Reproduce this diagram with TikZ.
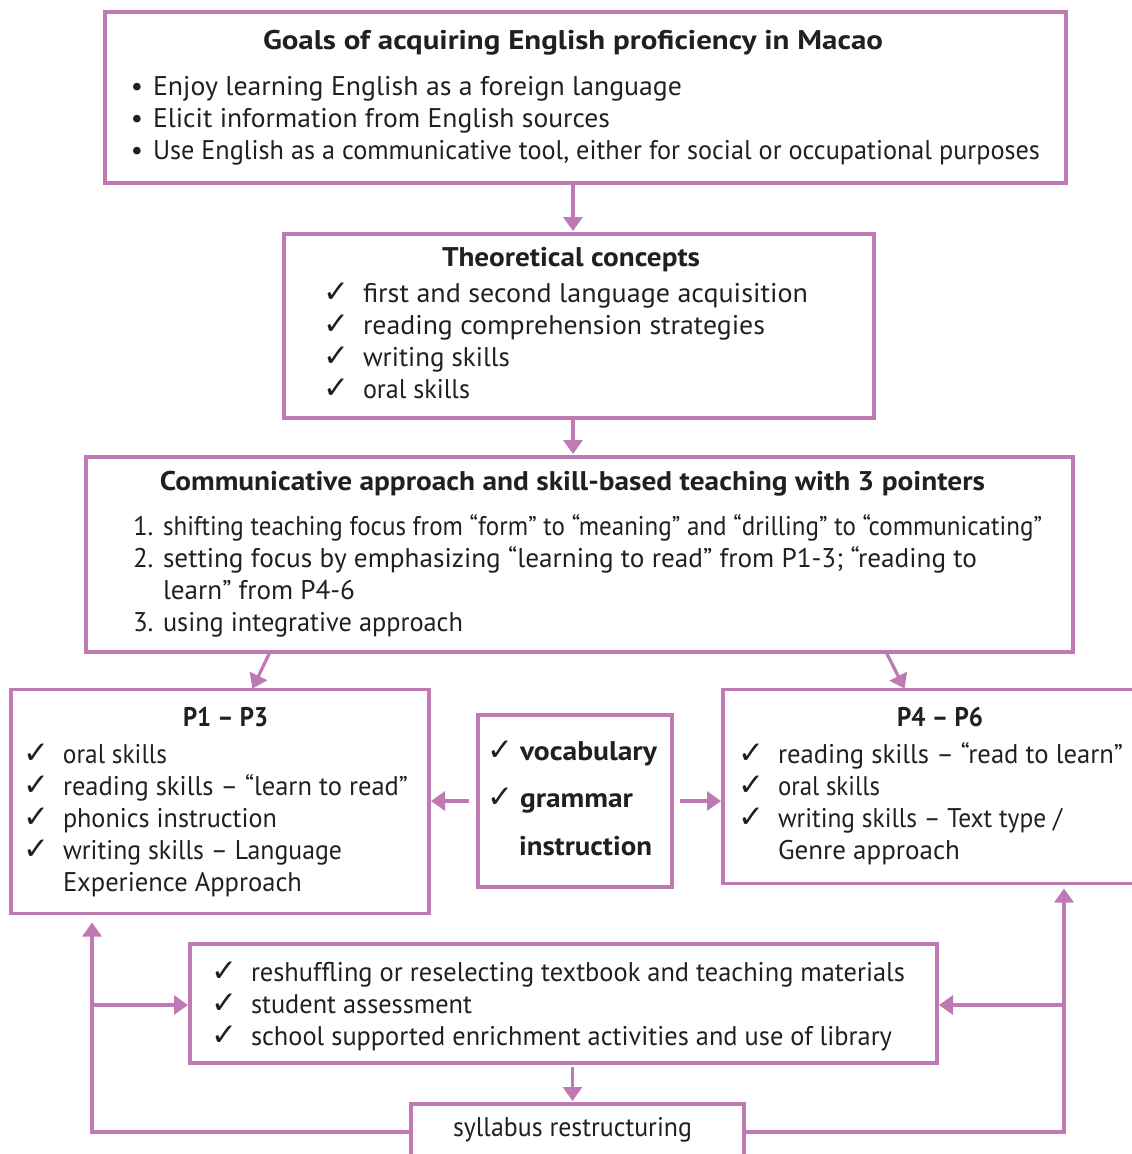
\documentclass[tikz,border=0pt]{standalone}
\usepackage{fontspec}
\setmainfont{PT Sans}
\newfontfamily\djv{DejaVu Sans}
\usetikzlibrary{arrows.meta,calc}
\definecolor{frame}{RGB}{191,122,179}
\definecolor{ink}{RGB}{35,31,32}
\newsavebox\fitbox
\newcommand{\fitw}[2]{\sbox\fitbox{#2}\pgfmathsetmacro\fitfac{#1/\the\wd\fitbox}\scalebox{\fitfac}[1]{\usebox\fitbox}}
\newcommand{\ck}{{\djv\fontsize{31}{31}\selectfont ✓}}
\newcommand{\ckitem}[2]{\makebox[35pt][l]{\makebox[17pt]{\ck}}\fitw{#1}{#2}}
\newcommand{\numitem}[3]{\makebox[30pt][l]{#1}\fitw{#2}{#3}}
\newcommand{\bulitem}[2]{\makebox[22pt][l]{\makebox[12pt]{\textbullet}}\fitw{#1}{#2}}
\begin{document}
\begin{tikzpicture}[x=1pt,y=-1pt,
  box/.style={draw=frame,line width=3.2pt,inner sep=0,outer sep=0},
  txt/.style={inner sep=0,outer sep=0,anchor=base west,text=ink,font=\fontsize{27}{32}\selectfont},
  ttl/.style={txt,anchor=base,font=\fontsize{27}{32}\selectfont\bfseries},
  arr/.style={draw=frame,line width=3.2pt,-{Triangle[length=14pt,width=19pt]}}]
\useasboundingbox (0,0) rectangle (1132,1154);
\clip (0,0) rectangle (1132,1154);
% boxes
\node[box,minimum width=961pt,minimum height=171pt] (b1) at (585.5,97.5) {};
\node[box,minimum width=590pt,minimum height=184pt] (b2) at (579,326) {};
\node[box,minimum width=987pt,minimum height=195pt] (b3) at (579.5,554.5) {};
\node[box,minimum width=418pt,minimum height=224pt] (p1) at (220,801.5) {};
\node[box,minimum width=194pt,minimum height=172pt] (mid) at (575,801) {};
\node[box,minimum width=427pt,minimum height=194pt] (p4) at (936.5,786.5) {};
\node[box,minimum width=747pt,minimum height=119pt] (bot) at (563.5,1003.5) {};
\node[box,minimum width=333pt,minimum height=56pt] (syl) at (577.5,1132) {};
% box 1
\node[ttl] (t1) at (573,49) {\fitw{620}{Goals of acquiring English proficiency in Macao}};
\node[txt] (b1a) at (131,95) {\bulitem{529}{Enjoy learning English as a foreign language}};
\node[txt] (b1b) at (131,127) {\bulitem{457}{Elicit information from English sources}};
\node[txt] (b1c) at (131,159) {\bulitem{887}{Use English as a communicative tool, either for social or occupational purposes}};
% box 2
\node[ttl] (t2) at (571,266) {\fitw{258}{Theoretical concepts}};
\node[txt] (b2a) at (328,302) {\ckitem{445}{first and second language acquisition}};
\node[txt] (b2b) at (328,334) {\ckitem{402}{reading comprehension strategies}};
\node[txt] (b2c) at (328,366) {\ckitem{147}{writing skills}};
\node[txt] (b2d) at (328,398) {\ckitem{107}{oral skills}};
% box 3
\node[ttl] (t3) at (572.5,490) {\fitw{825}{Communicative approach and skill-based teaching with 3 pointers}};
\node[txt] (b3a) at (133,535) {\numitem{1.}{879}{shifting teaching focus from “form” to “meaning” and “drilling” to “communicating”}};
\node[txt] (b3b) at (133,567) {\numitem{2.}{814}{setting focus by emphasizing “learning to read” from P1-3; “reading to}};
\node[txt] (b3c) at (163,599) {\fitw{192}{learn” from P4-6}};
\node[txt] (b3d) at (133,631) {\numitem{3.}{300}{using integrative approach}};
% P1-P3
\node[ttl] (tp1) at (225.5,726) {\fitw{85}{P1 – P3}};
\node[txt] (p1a) at (28,763) {\ckitem{104}{oral skills}};
\node[txt] (p1b) at (28,795) {\ckitem{345}{reading skills – “learn to read”}};
\node[txt] (p1c) at (28,827) {\ckitem{214}{phonics instruction}};
\node[txt] (p1d) at (28,859) {\ckitem{279}{writing skills – Language}};
\node[txt] (p1e) at (63,891) {\fitw{239}{Experience Approach}};
% middle
\node[txt] (ma) at (492,760) {\makebox[28pt][l]{\makebox[17pt]{\ck}}\textbf{\fitw{137}{vocabulary}}};
\node[txt] (mb) at (492,807) {\makebox[28pt][l]{\makebox[17pt]{\ck}}\textbf{\fitw{113}{grammar}}};
\node[txt] (mc) at (519,855) {\textbf{\fitw{133}{instruction}}};
% P4-P6
\node[ttl] (tp4) at (940,726) {\fitw{86}{P4 – P6}};
\node[txt] (p4a) at (743,763) {\ckitem{345}{reading skills – “read to learn”}};
\node[txt] (p4b) at (743,795) {\ckitem{102}{oral skills}};
\node[txt] (p4c) at (743,827) {\ckitem{284}{writing skills – Text type /}};
\node[txt] (p4d) at (778,859) {\fitw{182}{Genre approach}};
% bottom
\node[txt] (ba) at (216,981) {\ckitem{654}{reshuffling or reselecting textbook and teaching materials}};
\node[txt] (bb) at (216,1013) {\ckitem{221}{student assessment}};
\node[txt] (bc) at (216,1045) {\ckitem{641}{school supported enrichment activities and use of library}};
% syllabus
\node[txt,anchor=base] (st) at (572.5,1136) {\fitw{239}{syllabus restructuring}};
% connectors
\draw[arr,shorten <=2pt,shorten >=3pt] (t1 |- b1.south) -- (t1 |- b2.north);
\draw[arr,shorten <=2pt,shorten >=3pt] (t1 |- b2.south) -- (t1 |- b3.north);
\draw[arr,shorten <=-1pt,shorten >=1pt] ([xshift=184pt]b3.south west) -- ([xshift=241pt]p1.north west);
\draw[arr,shorten <=-1pt,shorten >=1pt] ([xshift=800pt]b3.south west) -- ([xshift=182pt]p4.north west);
\draw[arr,shorten <=9pt,shorten >=2pt] (mid.west) -- (mid.west -| p1.east);
\draw[arr,shorten <=8pt,shorten >=2pt] (mid.east) -- (mid.east -| p4.west);
\draw[arr,shorten <=4pt,shorten >=3pt] (st |- bot.south) -- (st |- syl.north);
\coordinate (jl) at (92,1005);
\coordinate (jr) at (1064,1005);
\draw[arr,shorten >=9pt] (syl.west) -| (jl |- p1.south);
\draw[arr,shorten >=2pt] (jl) -- (jl -| bot.west);
\draw[arr,shorten >=5pt] (syl.east) -| (jr |- p4.south);
\draw[arr,shorten >=2pt] (jr) -- (jr -| bot.east);
\end{tikzpicture}
\end{document}
